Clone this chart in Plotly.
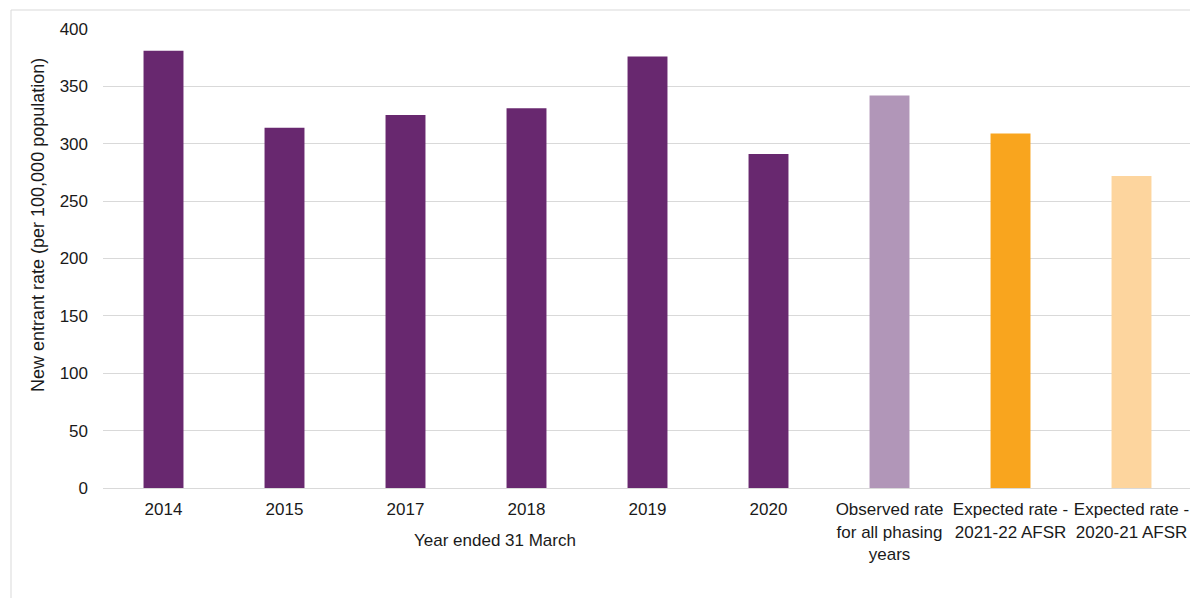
import plotly.graph_objects as go

categories = ["2014", "2015", "2017", "2018", "2019", "2020",
              "Observed rate<br>for all phasing<br>years",
              "Expected rate -<br>2021-22 AFSR",
              "Expected rate -<br>2020-21 AFSR"]
values = [381, 314, 325, 331, 376, 291, 342, 309, 272]
bar_colors = ["#68286F", "#68286F", "#68286F", "#68286F", "#68286F", "#68286F",
              "#B196B8", "#F9A51E", "#FDD59E"]
y_ticks = [0, 50, 100, 150, 200, 250, 300, 350, 400]

OFF = 8  # page body margin
W, H = 1190, 590
L, R, T, B = 95, 6, 21, 110
pw, ph = W - L - R, H - T - B

def px(x):
    return (x - OFF - L) / pw

def py(y):
    return (H - B - (y - OFF)) / ph

fig = go.Figure(go.Bar(
    x=categories, y=values, marker=dict(color=bar_colors, line=dict(width=0)),
    width=0.33,
))

font = dict(family="Liberation Sans, Arial, sans-serif", size=17, color="#1a1a1a")

fig.update_layout(
    width=W, height=H,
    margin=dict(l=L, r=R, t=T, b=B),
    paper_bgcolor="white", plot_bgcolor="white",
    font=font,
    showlegend=False,
    xaxis=dict(
        showgrid=False, showline=True, linecolor="#D9D9D9", linewidth=1,
        ticks="", tickfont=font, ticklabelstandoff=6, tickangle=0,
        fixedrange=True,
    ),
    yaxis=dict(
        range=[0, 400], tickvals=y_ticks, showgrid=True, gridcolor="#D9D9D9",
        gridwidth=1, zeroline=False, showline=False, ticks="",
        tickfont=font, ticklabelstandoff=14,
    ),
    annotations=[
        dict(text="New entrant rate (per 100,000 population)", textangle=-90,
             xref="paper", yref="paper", x=px(38), y=py(225),
             showarrow=False, font=dict(font, size=18),
             xanchor="center", yanchor="middle"),
        dict(text="Year ended 31 March",
             xref="paper", yref="paper", x=px(495), y=py(540),
             showarrow=False, font=font, xanchor="center", yanchor="middle"),
    ],
    shapes=[
        dict(type="rect", xref="paper", yref="paper",
             x0=px(11), x1=px(1215), y0=py(640), y1=py(10),
             line=dict(color="#D9D9D9", width=1), fillcolor="rgba(0,0,0,0)",
             layer="below"),
    ],
)

fig.write_html("out.html")
